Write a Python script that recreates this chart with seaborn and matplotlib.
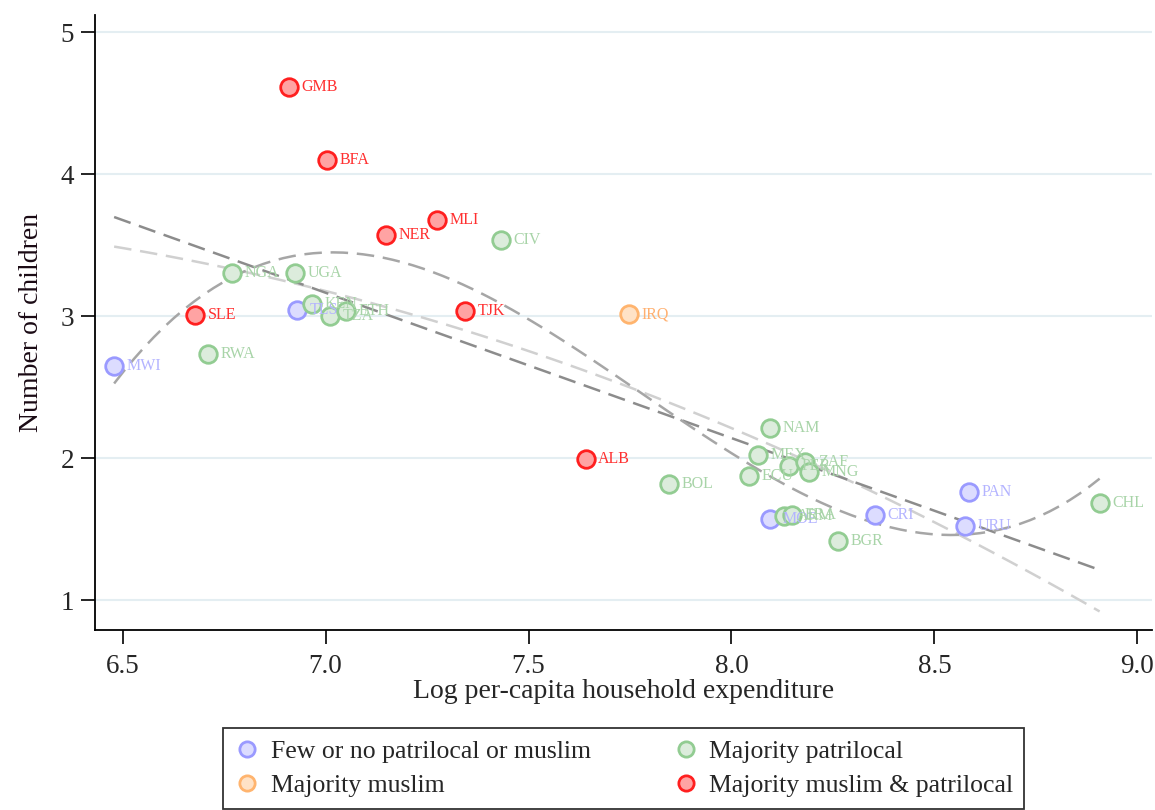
import numpy as np
import pandas as pd
import matplotlib
matplotlib.use('Agg')
import matplotlib.pyplot as plt
from matplotlib.lines import Line2D
import seaborn as sns

# Country-level data
countries = ['MWI', 'SLE', 'RWA', 'NGA', 'GMB', 'UGA', 'TLS', 'KEN', 'BFA', 'TZA',
             'ETH', 'NER', 'MLI', 'TJK', 'CIV', 'ALB', 'IRQ', 'BOL', 'ECU', 'MEX',
             'NAM', 'MOE', 'ARM', 'ERA', 'PER', 'ZAF', 'MNG', 'CRI', 'BGR', 'PAN',
             'URU', 'CHL']
log_exp = [6.479, 6.678, 6.711, 6.770, 6.910, 6.925, 6.930, 6.967, 7.004, 7.011,
           7.050, 7.149, 7.275, 7.343, 7.432, 7.641, 7.747, 7.846, 8.043, 8.065,
           8.095, 8.095, 8.130, 8.149, 8.142, 8.182, 8.190, 8.354, 8.262, 8.585,
           8.575, 8.907]
children = [2.648, 3.007, 2.732, 3.303, 4.613, 3.303, 3.042, 3.085, 4.099, 3.000,
            3.035, 3.570, 3.676, 3.035, 3.535, 1.993, 3.014, 1.817, 1.873, 2.021,
            2.211, 1.570, 1.592, 1.599, 1.944, 1.970, 1.900, 1.599, 1.415, 1.761,
            1.521, 1.683]
group = ['few', 'mmp', 'pat', 'pat', 'mmp', 'pat', 'few', 'pat', 'mmp', 'pat',
         'pat', 'mmp', 'mmp', 'mmp', 'pat', 'mmp', 'mus', 'pat', 'pat', 'pat',
         'pat', 'few', 'pat', 'pat', 'pat', 'pat', 'pat', 'few', 'pat', 'few',
         'few', 'pat']

group_names = {'few': 'Few or no patrilocal or muslim',
               'mus': 'Majority muslim',
               'pat': 'Majority patrilocal',
               'mmp': 'Majority muslim & patrilocal'}
legend_order = ['few', 'mus', 'pat', 'mmp']
face = {'few': '#dcdcff', 'mus': '#ffe2c6', 'pat': '#dcecdc', 'mmp': '#ffa3a3'}
edge = {'few': '#9a9aff', 'mus': '#ffb46e', 'pat': '#92cc92', 'mmp': '#ff1f1f'}
text_col = {'few': '#b4b4ff', 'mus': '#ffb070', 'pat': '#a8d4a8', 'mmp': '#ff3030'}

df = pd.DataFrame({'country': countries, 'x': log_exp, 'y': children, 'group': group})

sns.set_style('white')
plt.rcParams['font.family'] = ['Liberation Serif', 'DejaVu Serif']

fig = plt.figure(figsize=(11.55, 8.1), dpi=100)
ax = fig.add_axes([0.0823, 0.2222, 0.9151, 0.7593])

for yv in [1, 2, 3, 4, 5]:
    ax.axhline(yv, color='#e4eef2', lw=1.5, zorder=0)

# fitted lines: quadratic, linear, cubic
sns.regplot(data=df, x='x', y='y', order=2, ci=None, scatter=False, ax=ax,
            line_kws=dict(color='#d0d0d0', lw=1.8, dashes=(7, 3.5), zorder=1))
sns.regplot(data=df, x='x', y='y', order=1, ci=None, scatter=False, ax=ax,
            line_kws=dict(color='#8c8c8c', lw=1.8, dashes=(7, 3.5), zorder=1))
sns.regplot(data=df, x='x', y='y', order=3, ci=None, scatter=False, ax=ax,
            line_kws=dict(color='#a6a6a6', lw=1.8, dashes=(7, 3.5), zorder=1))

for g in legend_order:
    sub = df[df.group == g]
    sns.scatterplot(data=sub, x='x', y='y', ax=ax, s=160, color=face[g],
                    edgecolor=edge[g], linewidth=2, zorder=3)
    for _, r in sub.iterrows():
        ax.annotate(r['country'], (r['x'], r['y']), xytext=(9, 0), textcoords='offset points',
                    va='center', ha='left', fontsize=11.5, color=text_col[g], zorder=4)

ax.set_xlim(6.432, 9.036)
ax.set_ylim(0.79, 5.12)
ax.set_xticks([6.5, 7.0, 7.5, 8.0, 8.5, 9.0])
ax.set_xticklabels(['6.5', '7.0', '7.5', '8.0', '8.5', '9.0'])
ax.set_yticks([1, 2, 3, 4, 5])
ax.tick_params(axis='both', direction='out', length=10, width=1.2, labelsize=19.5,
               color='black', bottom=True, left=True)
ax.tick_params(axis='x', pad=7)
ax.tick_params(axis='y', pad=5)
ax.set_xlabel('Log per-capita household expenditure', fontsize=20, labelpad=0)
ax.set_ylabel('Number of children', fontsize=20, labelpad=12, color='#1a0a14')
for side in ['top', 'right']:
    ax.spines[side].set_visible(False)
for side in ['left', 'bottom']:
    ax.spines[side].set_color('black')
    ax.spines[side].set_linewidth(1.3)

handles = [Line2D([], [], marker='o', ls='none', markersize=11, markerfacecolor=face[g],
                  markeredgecolor=edge[g], markeredgewidth=2) for g in legend_order]
leg = fig.legend(handles, [group_names[g] for g in legend_order], loc='upper center',
                 bbox_to_anchor=(0.54, 0.117), ncol=2, fontsize=18.5, frameon=True,
                 fancybox=False, edgecolor='black', handletextpad=0.4,
                 columnspacing=3.2, borderpad=0.45, labelspacing=0.45, handlelength=1.0)
leg.get_frame().set_linewidth(1.3)

fig.savefig('out.png', dpi=100)
